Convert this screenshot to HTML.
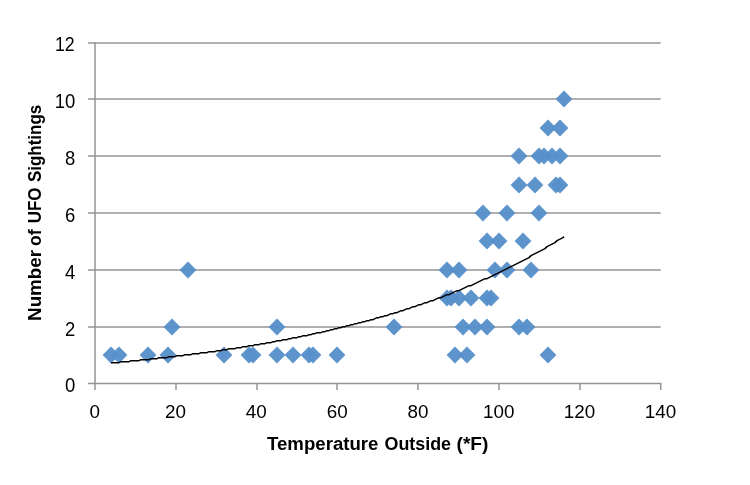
<!DOCTYPE html>
<html><head><meta charset="utf-8"><title>Chart</title>
<style>html,body{margin:0;padding:0;background:#ffffff;}body{width:750px;height:485px;overflow:hidden;font-family:"Liberation Sans",sans-serif;}svg{display:block;will-change:transform;}</style>
</head><body>
<svg width="750" height="485" viewBox="0 0 750 485">
<g stroke="#949494" stroke-width="1.5" fill="none">
<line x1="88" y1="327" x2="660.70" y2="327"/>
<line x1="88" y1="270" x2="660.70" y2="270"/>
<line x1="88" y1="213" x2="660.70" y2="213"/>
<line x1="88" y1="156" x2="660.70" y2="156"/>
<line x1="88" y1="99" x2="660.70" y2="99"/>
<line x1="88" y1="43" x2="660.70" y2="43"/>
<line x1="88" y1="383.5" x2="661.45" y2="383.5"/>
<line x1="95.0" y1="42.25" x2="95.0" y2="390"/>
<line x1="176.00" y1="383.5" x2="176.00" y2="390"/>
<line x1="257.00" y1="383.5" x2="257.00" y2="390"/>
<line x1="337.00" y1="383.5" x2="337.00" y2="390"/>
<line x1="418.00" y1="383.5" x2="418.00" y2="390"/>
<line x1="499.00" y1="383.5" x2="499.00" y2="390"/>
<line x1="580.00" y1="383.5" x2="580.00" y2="390"/>
<line x1="660.70" y1="383.5" x2="660.70" y2="390"/>
</g>
<g fill="#5790ca" fill-opacity="0.965">
<path d="M111.00 346.60L119.40 355.00L111.00 363.40L102.60 355.00Z"/>
<path d="M119.00 346.60L127.40 355.00L119.00 363.40L110.60 355.00Z"/>
<path d="M148.00 346.60L156.40 355.00L148.00 363.40L139.60 355.00Z"/>
<path d="M168.00 346.60L176.40 355.00L168.00 363.40L159.60 355.00Z"/>
<path d="M224.00 346.60L232.40 355.00L224.00 363.40L215.60 355.00Z"/>
<path d="M249.00 346.60L257.40 355.00L249.00 363.40L240.60 355.00Z"/>
<path d="M253.00 346.60L261.40 355.00L253.00 363.40L244.60 355.00Z"/>
<path d="M277.00 346.60L285.40 355.00L277.00 363.40L268.60 355.00Z"/>
<path d="M293.00 346.60L301.40 355.00L293.00 363.40L284.60 355.00Z"/>
<path d="M309.00 346.60L317.40 355.00L309.00 363.40L300.60 355.00Z"/>
<path d="M313.00 346.60L321.40 355.00L313.00 363.40L304.60 355.00Z"/>
<path d="M337.00 346.60L345.40 355.00L337.00 363.40L328.60 355.00Z"/>
<path d="M455.00 346.60L463.40 355.00L455.00 363.40L446.60 355.00Z"/>
<path d="M467.00 346.60L475.40 355.00L467.00 363.40L458.60 355.00Z"/>
<path d="M548.00 346.60L556.40 355.00L548.00 363.40L539.60 355.00Z"/>
<path d="M172.00 318.60L180.40 327.00L172.00 335.40L163.60 327.00Z"/>
<path d="M277.00 318.60L285.40 327.00L277.00 335.40L268.60 327.00Z"/>
<path d="M394.00 318.60L402.40 327.00L394.00 335.40L385.60 327.00Z"/>
<path d="M463.00 318.60L471.40 327.00L463.00 335.40L454.60 327.00Z"/>
<path d="M475.00 318.60L483.40 327.00L475.00 335.40L466.60 327.00Z"/>
<path d="M487.00 318.60L495.40 327.00L487.00 335.40L478.60 327.00Z"/>
<path d="M519.00 318.60L527.40 327.00L519.00 335.40L510.60 327.00Z"/>
<path d="M527.00 318.60L535.40 327.00L527.00 335.40L518.60 327.00Z"/>
<path d="M447.00 289.60L455.40 298.00L447.00 306.40L438.60 298.00Z"/>
<path d="M451.00 289.60L459.40 298.00L451.00 306.40L442.60 298.00Z"/>
<path d="M459.00 289.60L467.40 298.00L459.00 306.40L450.60 298.00Z"/>
<path d="M471.00 289.60L479.40 298.00L471.00 306.40L462.60 298.00Z"/>
<path d="M487.00 289.60L495.40 298.00L487.00 306.40L478.60 298.00Z"/>
<path d="M491.00 289.60L499.40 298.00L491.00 306.40L482.60 298.00Z"/>
<path d="M188.00 261.60L196.40 270.00L188.00 278.40L179.60 270.00Z"/>
<path d="M447.00 261.60L455.40 270.00L447.00 278.40L438.60 270.00Z"/>
<path d="M459.00 261.60L467.40 270.00L459.00 278.40L450.60 270.00Z"/>
<path d="M495.00 261.60L503.40 270.00L495.00 278.40L486.60 270.00Z"/>
<path d="M507.00 261.60L515.40 270.00L507.00 278.40L498.60 270.00Z"/>
<path d="M531.00 261.60L539.40 270.00L531.00 278.40L522.60 270.00Z"/>
<path d="M487.00 232.60L495.40 241.00L487.00 249.40L478.60 241.00Z"/>
<path d="M499.00 232.60L507.40 241.00L499.00 249.40L490.60 241.00Z"/>
<path d="M523.00 232.60L531.40 241.00L523.00 249.40L514.60 241.00Z"/>
<path d="M483.00 204.60L491.40 213.00L483.00 221.40L474.60 213.00Z"/>
<path d="M507.00 204.60L515.40 213.00L507.00 221.40L498.60 213.00Z"/>
<path d="M539.00 204.60L547.40 213.00L539.00 221.40L530.60 213.00Z"/>
<path d="M519.00 176.60L527.40 185.00L519.00 193.40L510.60 185.00Z"/>
<path d="M535.00 176.60L543.40 185.00L535.00 193.40L526.60 185.00Z"/>
<path d="M556.00 176.60L564.40 185.00L556.00 193.40L547.60 185.00Z"/>
<path d="M560.00 176.60L568.40 185.00L560.00 193.40L551.60 185.00Z"/>
<path d="M519.00 147.60L527.40 156.00L519.00 164.40L510.60 156.00Z"/>
<path d="M539.00 147.60L547.40 156.00L539.00 164.40L530.60 156.00Z"/>
<path d="M544.00 147.60L552.40 156.00L544.00 164.40L535.60 156.00Z"/>
<path d="M552.00 147.60L560.40 156.00L552.00 164.40L543.60 156.00Z"/>
<path d="M560.00 147.60L568.40 156.00L560.00 164.40L551.60 156.00Z"/>
<path d="M548.00 119.60L556.40 128.00L548.00 136.40L539.60 128.00Z"/>
<path d="M560.00 119.60L568.40 128.00L560.00 136.40L551.60 128.00Z"/>
<path d="M564.00 90.60L572.40 99.00L564.00 107.40L555.60 99.00Z"/>
</g>
<polyline points="111.0,362.65 113.0,362.65 115.0,362.65 117.0,362.65 119.0,362.65 121.0,361.65 123.0,361.65 125.0,361.65 127.0,361.65 129.0,361.65 131.0,360.65 133.0,360.65 135.0,360.65 137.0,360.65 139.0,360.65 141.0,359.65 143.0,359.65 145.0,359.65 147.0,359.65 149.0,359.65 151.0,358.65 153.0,358.65 155.0,358.65 157.0,358.65 159.0,357.65 161.0,357.65 163.0,357.65 165.0,357.65 167.0,357.65 169.0,356.65 171.0,356.65 173.0,356.65 175.0,356.65 177.0,355.65 179.0,355.65 181.0,355.65 183.0,355.65 185.0,354.65 187.0,354.65 189.0,354.65 191.0,354.65 193.0,353.65 195.0,353.65 197.0,353.65 199.0,353.65 201.0,352.65 203.0,352.65 205.0,352.65 207.0,352.65 209.0,351.65 211.0,351.65 213.0,351.65 215.0,351.65 217.0,350.65 219.0,350.65 221.0,350.65 223.0,349.65 225.0,349.65 227.0,349.65 229.0,348.65 231.0,348.65 233.0,348.65 235.0,348.65 237.0,347.65 239.0,347.65 241.0,347.65 243.0,346.65 245.0,346.65 247.0,346.65 249.0,345.65 251.0,345.65 253.0,345.65 255.0,344.65 257.0,344.65 259.0,344.65 261.0,343.65 263.0,343.65 265.0,343.65 267.0,342.65 269.0,342.65 271.0,342.65 273.0,341.65 275.0,341.65 277.0,340.65 279.0,340.65 281.0,340.65 283.0,339.65 285.0,339.65 287.0,339.65 289.0,338.65 291.0,338.65 293.0,337.65 295.0,337.65 297.0,337.65 299.0,336.65 301.0,336.65 303.0,335.65 305.0,335.65 307.0,335.65 309.0,334.65 311.0,334.65 313.0,333.65 315.0,333.65 317.0,332.65 319.0,332.65 321.0,332.65 323.0,331.65 325.0,331.65 327.0,330.65 329.0,330.65 331.0,329.65 333.0,329.65 335.0,328.65 337.0,328.65 339.0,327.65 341.0,327.65 343.0,326.65 345.0,326.65 347.0,325.65 349.0,325.65 351.0,324.65 353.0,324.65 355.0,323.65 357.0,323.65 359.0,322.65 361.0,322.65 363.0,321.65 365.0,321.65 367.0,320.65 369.0,320.65 371.0,319.65 373.0,319.65 375.0,318.65 377.0,317.65 379.0,317.65 381.0,316.65 383.0,316.65 385.0,315.65 387.0,315.65 389.0,314.65 391.0,313.65 393.0,313.65 395.0,312.65 397.0,312.65 399.0,311.65 401.0,310.65 403.0,310.65 405.0,309.65 407.0,308.65 409.0,308.65 411.0,307.65 413.0,306.65 415.0,306.65 417.0,305.65 419.0,304.65 421.0,304.65 423.0,303.65 425.0,302.65 427.0,302.65 429.0,301.65 431.0,300.65 433.0,300.65 435.0,299.65 437.0,298.65 439.0,297.65 441.0,297.65 443.0,296.65 445.0,295.65 447.0,294.65 449.0,294.65 451.0,293.65 453.0,292.65 455.0,291.65 457.0,290.65 459.0,290.65 461.0,289.65 463.0,288.65 465.0,287.65 467.0,286.65 469.0,285.65 471.0,285.65 473.0,284.65 475.0,283.65 477.0,282.65 479.0,281.65 481.0,280.65 483.0,279.65 485.0,278.65 487.0,278.65 489.0,277.65 491.0,276.65 493.0,275.65 495.0,274.65 497.0,273.65 499.0,272.65 501.0,271.65 503.0,270.65 505.0,269.65 507.0,268.65 509.0,267.65 511.0,266.65 513.0,265.65 515.0,264.65 517.0,263.65 519.0,262.65 521.0,261.65 523.0,260.65 525.0,259.65 527.0,258.65 529.0,257.65 531.0,255.65 533.0,254.65 535.0,253.65 537.0,252.65 539.0,251.65 541.0,250.65 543.0,249.65 545.0,248.65 547.0,246.65 549.0,245.65 551.0,244.65 553.0,243.65 555.0,242.65 557.0,240.65 559.0,239.65 561.0,238.65 563.0,237.65 564.0,236.65" fill="none" stroke="#000000" stroke-width="1.5" stroke-linejoin="round"/>
<g font-family="Liberation Sans, sans-serif" font-size="18.5" fill="#000000">
<text transform="translate(75.4 392.1) scale(1.0 1.05)" text-anchor="end">0</text>
<text transform="translate(75.4 336.0) scale(1.0 1.05)" text-anchor="end">2</text>
<text transform="translate(75.4 279.0) scale(1.0 1.05)" text-anchor="end">4</text>
<text transform="translate(75.4 222.0) scale(1.0 1.05)" text-anchor="end">6</text>
<text transform="translate(75.4 165.0) scale(1.0 1.05)" text-anchor="end">8</text>
<text transform="translate(75.4 108.0) scale(1.0 1.05)" text-anchor="end">10</text>
<text transform="translate(74.7 50.9) scale(0.96 1.05)" text-anchor="end">12</text>
<text transform="translate(94.70 418.4) scale(1.02 1.025)" text-anchor="middle">0</text>
<text transform="translate(175.51 418.4) scale(1.02 1.025)" text-anchor="middle">20</text>
<text transform="translate(256.33 418.4) scale(1.02 1.025)" text-anchor="middle">40</text>
<text transform="translate(337.14 418.4) scale(1.02 1.025)" text-anchor="middle">60</text>
<text transform="translate(417.96 418.4) scale(1.02 1.025)" text-anchor="middle">80</text>
<text transform="translate(498.77 418.4) scale(1.02 1.025)" text-anchor="middle">100</text>
<text transform="translate(579.59 418.4) scale(1.02 1.025)" text-anchor="middle">120</text>
<text transform="translate(660.40 418.4) scale(1.02 1.025)" text-anchor="middle">140</text>
</g>
<g font-family="Liberation Sans, sans-serif" font-size="18" font-weight="bold" fill="#000000">
<text x="266.99" y="450" textLength="111.50" lengthAdjust="spacingAndGlyphs">Temperature</text>
<text x="384.50" y="450" textLength="66.50" lengthAdjust="spacingAndGlyphs">Outside</text>
<text x="456.50" y="450" textLength="32.00" lengthAdjust="spacingAndGlyphs">(*F)</text>
<text transform="translate(41.4 320.90) rotate(-90)" textLength="70.90" lengthAdjust="spacingAndGlyphs">Number</text>
<text transform="translate(41.4 246.00) rotate(-90)" textLength="16.60" lengthAdjust="spacingAndGlyphs">of</text>
<text transform="translate(41.4 223.30) rotate(-90)" textLength="35.80" lengthAdjust="spacingAndGlyphs">UFO</text>
<text transform="translate(41.4 182.00) rotate(-90)" textLength="77.20" lengthAdjust="spacingAndGlyphs">Sightings</text>
</g>
</svg>
</body></html>
